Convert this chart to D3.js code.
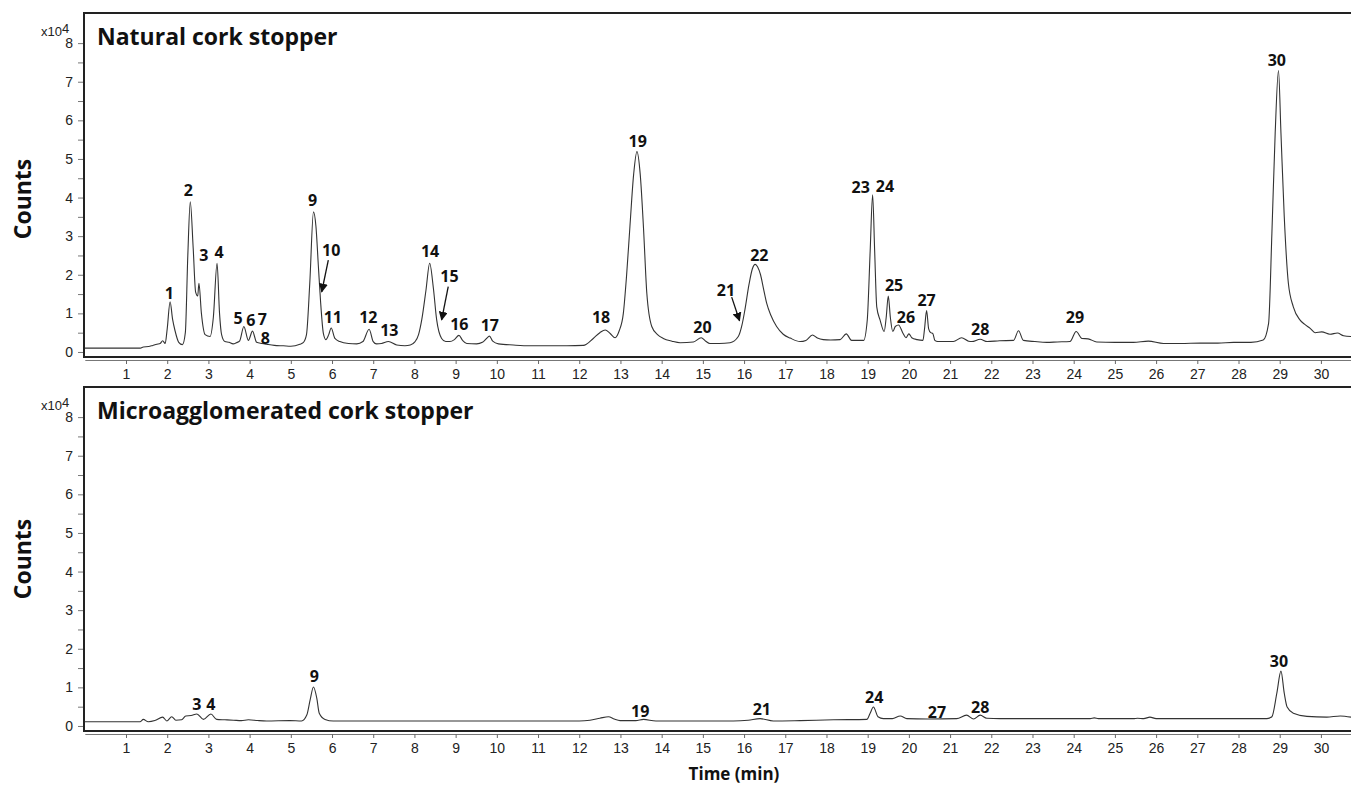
<!DOCTYPE html>
<html>
<head>
<meta charset="utf-8">
<script src="https://cdn.jsdelivr.net/npm/d3@7.9.0/dist/d3.min.js"></script>
<style>
  body { margin: 0; background: #fff; }
  svg { display: block; }
  .tick text { font-family: "Liberation Sans", Arial, sans-serif; font-size: 14px; fill: #222; }
  .peak { font-family: "Open Sans", sans-serif; font-weight: 700; font-size: 16px; fill: #111; }
  .title { font-family: "Open Sans", sans-serif; font-weight: 700; fill: #111; }
</style>
</head>
<body>
<svg id="chart" width="1351" height="785"></svg>
<script>
// time (min), counts (x10^4)
const naturalTrace = [
  [0, 0.10], [1.35, 0.10], [1.42, 0.13], [1.55, 0.14], [1.65, 0.17], [1.75, 0.2], [1.83, 0.22],
  [1.89, 0.29], [1.95, 0.22], [2.0, 0.6], [2.07, 1.30], [2.13, 0.85], [2.19, 0.55], [2.28, 0.25],
  [2.37, 0.19], [2.44, 0.5], [2.5, 2.5], [2.56, 3.89], [2.63, 2.7], [2.69, 1.55], [2.74, 1.45],
  [2.77, 1.78], [2.83, 1.0], [2.92, 0.45], [3.04, 0.40], [3.12, 0.9], [3.21, 2.30], [3.27, 1.0],
  [3.32, 0.45], [3.40, 0.27], [3.50, 0.25], [3.60, 0.21], [3.68, 0.24], [3.76, 0.29], [3.86, 0.66],
  [3.97, 0.30], [4.07, 0.54], [4.17, 0.25], [4.3, 0.22], [4.41, 0.20], [4.6, 0.17], [4.82, 0.16],
  [5.0, 0.15], [5.22, 0.20], [5.30, 0.24], [5.38, 0.45], [5.46, 1.78], [5.55, 3.63], [5.61, 3.25],
  [5.67, 2.2], [5.72, 1.34], [5.79, 0.48], [5.85, 0.32], [5.92, 0.45], [5.98, 0.62], [6.07, 0.35],
  [6.19, 0.27], [6.4, 0.22], [6.6, 0.21], [6.75, 0.27], [6.9, 0.59], [7.0, 0.27], [7.08, 0.21],
  [7.2, 0.22], [7.37, 0.27], [7.57, 0.18], [7.77, 0.16], [7.9, 0.18], [8.01, 0.26], [8.1, 0.45],
  [8.18, 0.85], [8.28, 1.6], [8.37, 2.30], [8.46, 1.65], [8.54, 0.83], [8.66, 0.35], [8.76, 0.27],
  [8.86, 0.27], [8.97, 0.32], [9.08, 0.43], [9.17, 0.30], [9.27, 0.22], [9.51, 0.21], [9.65, 0.25],
  [9.75, 0.35], [9.82, 0.41], [9.9, 0.28], [10.04, 0.21], [10.4, 0.18], [10.8, 0.16], [11.3, 0.16],
  [11.7, 0.16], [12.1, 0.17], [12.34, 0.35], [12.5, 0.5], [12.63, 0.57], [12.75, 0.48], [12.87, 0.37],
  [12.97, 0.55], [13.07, 1.0], [13.15, 2.0], [13.23, 3.25], [13.32, 4.6], [13.40, 5.19], [13.48, 4.6],
  [13.56, 3.2], [13.64, 1.52], [13.76, 0.66], [13.9, 0.45], [14.04, 0.35], [14.25, 0.28], [14.45, 0.24],
  [14.77, 0.26], [14.96, 0.37], [15.07, 0.28], [15.17, 0.22], [15.4, 0.22], [15.66, 0.24], [15.86, 0.40],
  [15.95, 0.7], [16.02, 1.09], [16.12, 1.75], [16.2, 2.15], [16.27, 2.27], [16.33, 2.2], [16.4, 2.0],
  [16.47, 1.65], [16.55, 1.26], [16.65, 0.95], [16.79, 0.66], [16.95, 0.46], [17.12, 0.36], [17.36, 0.27],
  [17.5, 0.3], [17.66, 0.44], [17.78, 0.36], [17.92, 0.32], [18.1, 0.31], [18.33, 0.32], [18.48, 0.47],
  [18.61, 0.30], [18.9, 0.30], [18.99, 0.83], [19.06, 2.6], [19.12, 4.07], [19.17, 2.6], [19.22, 1.17],
  [19.30, 0.83], [19.40, 0.53], [19.45, 0.9], [19.50, 1.45], [19.55, 0.9], [19.61, 0.53], [19.67, 0.66],
  [19.75, 0.70], [19.85, 0.50], [19.93, 0.37], [20.0, 0.47], [20.07, 0.37], [20.2, 0.32], [20.34, 0.30],
  [20.38, 0.6], [20.43, 1.07], [20.48, 0.6], [20.53, 0.50], [20.58, 0.48], [20.63, 0.3], [20.7, 0.27],
  [21.08, 0.27], [21.28, 0.37], [21.45, 0.28], [21.53, 0.27], [21.73, 0.33], [21.9, 0.27], [22.2, 0.29],
  [22.54, 0.30], [22.66, 0.55], [22.78, 0.30], [23.06, 0.27], [23.35, 0.25], [23.6, 0.26], [23.91, 0.27],
  [24.06, 0.53], [24.20, 0.35], [24.35, 0.34], [24.56, 0.26], [25.0, 0.25], [25.45, 0.25], [25.81, 0.28],
  [26.18, 0.22], [26.6, 0.22], [27.07, 0.23], [27.5, 0.23], [27.88, 0.25], [28.3, 0.25], [28.60, 0.31],
  [28.73, 0.74], [28.81, 3.07], [28.89, 5.67], [28.97, 7.29], [29.03, 5.67], [29.11, 3.51], [29.21, 1.78],
  [29.33, 1.17], [29.49, 0.83], [29.6, 0.72], [29.74, 0.61], [29.86, 0.50], [30.02, 0.52], [30.22, 0.46],
  [30.40, 0.49], [30.55, 0.42], [30.73, 0.40]
];

const microTrace = [
  [0, 0.11], [1.34, 0.11], [1.42, 0.17], [1.54, 0.11], [1.7, 0.14], [1.89, 0.23], [1.99, 0.13],
  [2.11, 0.24], [2.21, 0.15], [2.35, 0.16], [2.45, 0.26], [2.58, 0.27], [2.72, 0.31], [2.88, 0.17],
  [3.06, 0.31], [3.20, 0.17], [3.4, 0.16], [3.61, 0.15], [3.8, 0.14], [3.97, 0.16], [4.2, 0.14],
  [4.41, 0.13], [4.98, 0.14], [5.26, 0.13], [5.39, 0.29], [5.47, 0.68], [5.55, 1.01], [5.63, 0.72],
  [5.69, 0.33], [5.83, 0.17], [6.03, 0.13], [8.0, 0.13], [10.0, 0.13], [12.0, 0.13], [12.26, 0.15],
  [12.5, 0.2], [12.71, 0.24], [12.85, 0.18], [12.99, 0.14], [13.37, 0.14], [13.56, 0.17], [13.86, 0.13],
  [15.74, 0.13], [16.1, 0.15], [16.39, 0.19], [16.71, 0.13], [17.36, 0.14], [18.17, 0.16], [18.98, 0.17],
  [19.06, 0.33], [19.14, 0.49], [19.25, 0.24], [19.38, 0.19], [19.6, 0.19], [19.79, 0.26], [19.95, 0.19],
  [20.45, 0.18], [21.16, 0.19], [21.40, 0.28], [21.57, 0.18], [21.73, 0.28], [21.89, 0.20], [22.21, 0.19],
  [24.4, 0.19], [24.5, 0.21], [24.6, 0.19], [25.45, 0.19], [25.55, 0.2], [25.7, 0.19], [25.85, 0.23],
  [26.0, 0.19], [27.6, 0.19], [28.69, 0.19], [28.81, 0.24], [28.93, 0.85], [29.03, 1.42], [29.11, 0.85],
  [29.18, 0.49], [29.33, 0.33], [29.66, 0.25], [30.14, 0.23], [30.47, 0.26], [30.73, 0.23]
];

// peak numbers: [label, time, counts]
const naturalPeaks = [
  ['1', 2.05, 1.52], ['2', 2.51, 4.20], ['3', 2.89, 2.51], ['4', 3.26, 2.59], ['5', 3.72, 0.88],
  ['6', 4.03, 0.83], ['7', 4.31, 0.85], ['8', 4.38, 0.35], ['9', 5.53, 3.94], ['10', 5.98, 2.64],
  ['11', 6.02, 0.91], ['12', 6.88, 0.91], ['13', 7.39, 0.57], ['14', 8.38, 2.62], ['15', 8.85, 1.97],
  ['16', 9.09, 0.72], ['17', 9.83, 0.68], ['18', 12.53, 0.89], ['19', 13.42, 5.47], ['20', 14.99, 0.64],
  ['21', 15.56, 1.61], ['22', 16.37, 2.51], ['23', 18.83, 4.27], ['24', 19.42, 4.28], ['25', 19.64, 1.72],
  ['26', 19.93, 0.90], ['27', 20.43, 1.35], ['28', 21.73, 0.59], ['29', 24.03, 0.89], ['30', 28.93, 7.56]
];
const microPeaks = [
  ['3', 2.72, 0.57], ['4', 3.06, 0.57], ['9', 5.57, 1.29], ['19', 13.48, 0.39], ['21', 16.43, 0.44],
  ['24', 19.16, 0.75], ['27', 20.68, 0.36], ['28', 21.73, 0.49], ['30', 28.98, 1.68]
];

// arrows pointing at shoulders: [t0, v0, t1, v1]
const naturalArrows = [
  [5.91, 2.38, 5.75, 1.56],
  [8.82, 1.69, 8.66, 0.83],
  [15.70, 1.42, 15.89, 0.81]
];

const xTicks = d3.range(1, 31);
const yTicks = d3.range(0, 8.01, 0.5);

const W = 1351;
const svg = d3.select('#chart');

svg.append('defs').append('marker')
  .attr('id', 'head')
  .attr('viewBox', '0 0 10 10')
  .attr('refX', 9).attr('refY', 5)
  .attr('markerWidth', 9).attr('markerHeight', 9)
  .attr('markerUnits', 'userSpaceOnUse')
  .attr('orient', 'auto')
  .append('path')
  .attr('d', 'M0,0 L10,5 L0,10 Z')
  .attr('fill', '#111');

const x = d3.scaleLinear().domain([0, 30.73]).range([84.8, W]);

function drawPanel(top, trace, peaks, arrows, title, countsY) {
  const g = svg.append('g').attr('transform', `translate(0,${top})`);
  const y = d3.scaleLinear().domain([-0.13, 8.78]).range([344, 0]);

  // x axis (separate line under the frame)
  const xAxis = g.append('g')
    .attr('transform', 'translate(0,347)')
    .call(d3.axisBottom(x).tickValues(xTicks).tickSize(4).tickSizeOuter(0).tickPadding(5));
  xAxis.select('.domain').attr('stroke', '#777').attr('stroke-width', 1.2);
  xAxis.selectAll('.tick line').attr('stroke', '#666');

  // y axis
  const yAxis = g.append('g')
    .attr('transform', 'translate(84,0)')
    .call(d3.axisLeft(y).tickValues(yTicks).tickSize(6).tickPadding(5)
      .tickFormat(d => Number.isInteger(d) ? d : ''));
  yAxis.select('.domain').remove();
  yAxis.selectAll('.tick line').attr('stroke', '#777');

  // frame
  g.append('path')
    .attr('d', `M${W},0 H84 V344 H${W}`)
    .attr('fill', 'none')
    .attr('stroke', '#222')
    .attr('stroke-width', 2);

  // trace
  const line = d3.line()
    .x(d => x(d[0]))
    .y(d => y(d[1]))
    .curve(d3.curveMonotoneX);
  g.append('path')
    .datum(trace)
    .attr('d', line)
    .attr('fill', 'none')
    .attr('stroke', '#333')
    .attr('stroke-width', 1.1);

  // peak labels
  g.selectAll('text.peak')
    .data(peaks)
    .join('text')
    .attr('class', 'peak')
    .attr('x', d => x(d[1]))
    .attr('y', d => y(d[2]))
    .attr('dy', '0.36em')
    .attr('text-anchor', 'middle')
    .text(d => d[0]);

  g.selectAll('line.arrow')
    .data(arrows)
    .join('line')
    .attr('class', 'arrow')
    .attr('x1', d => x(d[0])).attr('y1', d => y(d[1]))
    .attr('x2', d => x(d[2])).attr('y2', d => y(d[3]))
    .attr('stroke', '#111')
    .attr('stroke-width', 1.3)
    .attr('marker-end', 'url(#head)');

  // panel title
  g.append('text')
    .attr('class', 'title')
    .attr('x', 97).attr('y', 32)
    .attr('font-size', 23)
    .text(title);

  // x10^4 multiplier
  const mult = g.append('text')
    .attr('x', 41).attr('y', 23)
    .attr('font-family', 'Liberation Sans, Arial, sans-serif')
    .attr('font-size', 13)
    .attr('fill', '#222');
  mult.append('tspan').text('x10');
  mult.append('tspan').attr('dy', -3).text('4');

  // y label
  g.append('text')
    .attr('transform', `translate(23,${countsY}) rotate(-90)`)
    .attr('text-anchor', 'middle')
    .attr('dy', '0.35em')
    .attr('font-family', 'Open Sans, sans-serif')
    .attr('font-weight', 700)
    .attr('font-size', 23)
    .attr('fill', '#111')
    .text('Counts');
}

drawPanel(13, naturalTrace, naturalPeaks, naturalArrows, 'Natural cork stopper', 186);
drawPanel(387, microTrace, microPeaks, [], 'Microagglomerated cork stopper', 172);

svg.append('text')
  .attr('x', 734).attr('y', 780)
  .attr('text-anchor', 'middle')
  .attr('font-family', 'Open Sans, sans-serif')
  .attr('font-weight', 700)
  .attr('font-size', 17)
  .attr('fill', '#111')
  .text('Time (min)');
</script>
</body>
</html>
